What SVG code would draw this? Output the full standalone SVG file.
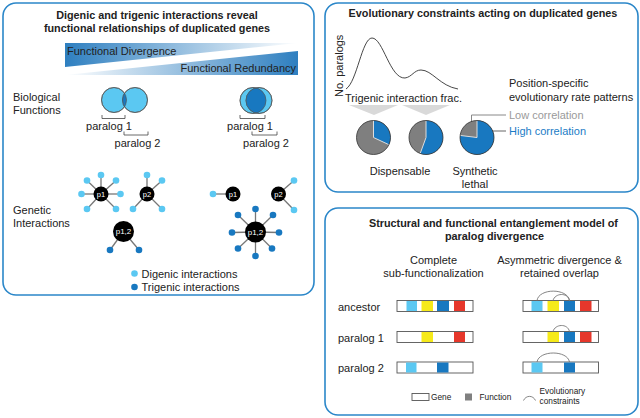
<svg xmlns="http://www.w3.org/2000/svg" width="640" height="418" viewBox="0 0 640 418">
<defs>
<linearGradient id="gDiv" x1="0" y1="0" x2="1" y2="0">
<stop offset="0" stop-color="#2e7fc0"/><stop offset="1" stop-color="#2e7fc0" stop-opacity="0"/>
</linearGradient>
<linearGradient id="gRed" x1="0" y1="0" x2="1" y2="0">
<stop offset="0" stop-color="#2e7fc0" stop-opacity="0"/><stop offset="1" stop-color="#2e7fc0"/>
</linearGradient>
<clipPath id="cL"><circle cx="114" cy="100" r="12.5"/></clipPath>
<clipPath id="cR"><circle cx="253" cy="100.5" r="13"/></clipPath>
</defs>
<style>
text{font-family:"Liberation Sans",Arial,sans-serif;fill:#222;font-size:11px}
.t{font-weight:bold;font-size:10.8px;text-anchor:middle}
.c{text-anchor:middle}
.panel{fill:#fff;stroke:#2b87c9;stroke-width:1.6}
.lb{fill:#5bc8f2}
.db{fill:#1878c0}
.ye{fill:#f6ea1a}
.rd{fill:#e6372b}
.vs{stroke:#555;stroke-width:0.7}
.br{fill:none;stroke:#444;stroke-width:0.8}
.sp{stroke:#777;stroke-width:1.3}
.nd{fill:#000}
.nl{fill:#fff;font-size:7.5px;text-anchor:middle}
.gene{fill:#fff;stroke:#555;stroke-width:0.9}
.arc{fill:none;stroke:#777;stroke-width:0.9}
.pg{fill:#7f7f7f}
.pb{fill:#1878c0}
.pe{fill:none;stroke:#333;stroke-width:0.8}
.pw{stroke:#ddd;stroke-width:1}
.lg{font-size:8.3px}
</style>

<g id="panel-left">
<rect class="panel" x="3" y="3" width="311" height="292" rx="13"/>
<text class="t" x="157" y="19">Digenic and trigenic interactions reveal</text>
<text class="t" x="157" y="31.5">functional relationships of duplicated genes</text>
<polygon points="65,43 298,43 65,67" fill="url(#gDiv)"/>
<polygon points="65,75 298,51 298,75" fill="url(#gRed)"/>
<text x="67" y="55">Functional Divergence</text>
<text x="296" y="72" text-anchor="end">Functional Redundancy</text>
<text x="13" y="101">Biological</text>
<text x="13" y="113.5">Functions</text>
<text x="13" y="214">Genetic</text>
<text x="13" y="227">Interactions</text>
</g>

<g id="venn-left">
<circle class="lb vs" cx="114" cy="100" r="12.5"/>
<circle class="lb vs" cx="135" cy="100" r="12.5"/>
<circle class="db" cx="135" cy="100" r="12.5" clip-path="url(#cL)"/>
<circle cx="114" cy="100" r="12.5" fill="none" class="vs"/>
<circle cx="135" cy="100" r="12.5" fill="none" class="vs"/>
<path class="br" d="M102,115 V118.5 H125 V115"/>
<text class="c" x="109" y="130">paralog 1</text>
<path class="br" d="M124,131.5 V135 H148 V131.5"/>
<text class="c" x="137.5" y="146.5">paralog 2</text>
</g>

<g id="venn-right">
<circle class="lb vs" cx="253" cy="100.5" r="13"/>
<circle class="lb vs" cx="259" cy="100.5" r="13"/>
<circle class="db" cx="259" cy="100.5" r="13" clip-path="url(#cR)"/>
<circle cx="253" cy="100.5" r="13" fill="none" class="vs"/>
<circle cx="259" cy="100.5" r="13" fill="none" class="vs"/>
<path class="br" d="M240,115 V118.5 H265 V115"/>
<text class="c" x="250" y="130">paralog 1</text>
<path class="br" d="M252,131.5 V135 H277 V131.5"/>
<text class="c" x="266" y="146.5">paralog 2</text>
</g>

<g id="connectors">
<g class="sp">
<line x1="101" y1="194" x2="101" y2="175"/><line x1="101" y1="194" x2="87" y2="180.5"/><line x1="101" y1="194" x2="116" y2="180.5"/>
<line x1="101" y1="194" x2="81.5" y2="194"/><line x1="101" y1="194" x2="120.5" y2="194"/><line x1="101" y1="194" x2="87" y2="209"/><line x1="101" y1="194" x2="116" y2="209"/>
<line x1="147" y1="194" x2="147" y2="175"/><line x1="147" y1="194" x2="162" y2="180.5"/><line x1="147" y1="194" x2="133" y2="209"/><line x1="147" y1="194" x2="162" y2="209"/>
<line x1="123.5" y1="231.5" x2="110" y2="250"/><line x1="123.5" y1="231.5" x2="139" y2="250"/>
<line x1="233" y1="194" x2="213" y2="194"/>
<line x1="278.5" y1="194" x2="294" y2="180.5"/><line x1="278.5" y1="194" x2="294" y2="210"/>
<line x1="255.5" y1="232" x2="255.5" y2="209"/><line x1="255.5" y1="232" x2="238" y2="215"/><line x1="255.5" y1="232" x2="273" y2="215"/>
<line x1="255.5" y1="232" x2="232" y2="232.5"/><line x1="255.5" y1="232" x2="279" y2="232.5"/><line x1="255.5" y1="232" x2="238" y2="248.5"/>
<line x1="255.5" y1="232" x2="272" y2="248.5"/><line x1="255.5" y1="232" x2="255.5" y2="256"/>
</g>
</g>

<g id="dots">
<g class="lb">
<circle cx="101" cy="175" r="3.3"/><circle cx="87" cy="180.5" r="3.3"/><circle cx="116" cy="180.5" r="3.3"/><circle cx="81.5" cy="194" r="3.3"/>
<circle cx="120.5" cy="194" r="3.3"/><circle cx="87" cy="209" r="3.3"/><circle cx="116" cy="209" r="3.3"/>
<circle cx="147" cy="175" r="3.3"/><circle cx="162" cy="180.5" r="3.3"/><circle cx="133" cy="209" r="3.3"/><circle cx="162" cy="209" r="3.3"/>
<circle cx="213" cy="194" r="3.3"/><circle cx="294" cy="180.5" r="3.3"/><circle cx="294" cy="210" r="3.3"/>
</g>
<g class="db">
<circle cx="110" cy="250" r="3.3"/><circle cx="139" cy="250" r="3.3"/>
<circle cx="255.5" cy="209" r="3.3"/><circle cx="238" cy="215" r="3.3"/><circle cx="273" cy="215" r="3.3"/><circle cx="232" cy="232.5" r="3.3"/>
<circle cx="279" cy="232.5" r="3.3"/><circle cx="238" cy="248.5" r="3.3"/><circle cx="272" cy="248.5" r="3.3"/><circle cx="255.5" cy="256" r="3.3"/>
</g>
</g>

<g id="node-p1-left"><circle class="nd" cx="101" cy="194" r="7.5"/><text class="nl" x="101" y="196.7">p1</text></g>
<g id="node-p2-left"><circle class="nd" cx="147" cy="194" r="7.5"/><text class="nl" x="147" y="196.7">p2</text></g>
<g id="node-p12-left"><circle class="nd" cx="123.5" cy="231.5" r="10.5"/><text class="nl" x="123.5" y="234.3" style="font-size:8px">p1,2</text></g>
<g id="node-p1-right"><circle class="nd" cx="233" cy="194" r="7.5"/><text class="nl" x="233" y="196.7">p1</text></g>
<g id="node-p2-right"><circle class="nd" cx="278.5" cy="194" r="7.5"/><text class="nl" x="278.5" y="196.7">p2</text></g>
<g id="node-p12-right"><circle class="nd" cx="255.5" cy="232" r="10.5"/><text class="nl" x="255.5" y="234.8" style="font-size:8px">p1,2</text></g>

<g id="legend-left">
<circle class="lb" cx="134.5" cy="273.5" r="3.3"/><text x="141.5" y="277.5">Digenic interactions</text>
<circle class="db" cx="134.5" cy="287" r="3.3"/><text x="141.5" y="291">Trigenic interactions</text>
</g>

<g id="panel-evo">
<rect class="panel" x="325" y="3" width="313" height="189" rx="13"/>
<text class="t" x="483" y="17">Evolutionary constraints acting on duplicated genes</text>
<path d="M346,89 C357,82 362,38 372,38 C383,38 390,79 405,78 C412,77 414,70 421,70 C432,70 440,86 458,89" fill="none" stroke="#333" stroke-width="0.9"/>
<text x="343" y="97" transform="rotate(-90 343 97)">No. paralogs</text>
<text x="345" y="102">Trigenic interaction frac.</text>
<polygon points="349,105 398,105 374,115" fill="#d9d9d9"/>
<polygon points="402,105 450,105 426,115" fill="#d9d9d9"/>
<text x="509" y="87">Position-specific</text>
<text x="509" y="101">evolutionary rate patterns</text>
<text x="509" y="119" style="fill:#9a9a9a">Low correlation</text>
<text x="509" y="135" style="fill:#1b7cc6">High correlation</text>
<text class="c" x="400" y="175">Dispensable</text>
<text class="c" x="475" y="175">Synthetic</text>
<text class="c" x="475" y="188">lethal</text>
<polyline points="471.5,128 471.5,115 506,115" fill="none" stroke="#888" stroke-width="1"/>
<line x1="490" y1="131" x2="506" y2="131" stroke="#666" stroke-width="1"/>
</g>

<g id="pie-1">
<circle class="pg" cx="373.5" cy="137.5" r="17"/>
<path class="pb" d="M373.5,137.5 L373.5,120.5 A17,17 0 0 1 388.91,144.68 Z"/>
<path class="pw" d="M373.5,120.5 L373.5,137.5 L388.91,144.68" fill="none"/>
<circle class="pe" cx="373.5" cy="137.5" r="17"/>
</g>
<g id="pie-2">
<circle class="pg" cx="426" cy="137.5" r="17"/>
<path class="pb" d="M426,137.5 L426,120.5 A17,17 0 1 1 420.19,153.47 Z"/>
<path class="pw" d="M426,120.5 L426,137.5 L420.19,153.47" fill="none"/>
<circle class="pe" cx="426" cy="137.5" r="17"/>
</g>
<g id="pie-3">
<circle class="pg" cx="477" cy="137.5" r="17"/>
<path class="pb" d="M477,137.5 L477,120.5 A17,17 0 1 1 460.13,135.43 Z"/>
<path class="pw" d="M477,120.5 L477,137.5 L460.13,135.43" fill="none"/>
<circle class="pe" cx="477" cy="137.5" r="17"/>
</g>

<g id="panel-model">
<rect class="panel" x="325" y="208" width="313" height="207" rx="13"/>
<text class="t" x="493.5" y="227">Structural and functional entanglement model of</text>
<text class="t" x="494.5" y="240">paralog divergence</text>
<text class="c" x="433.5" y="264">Complete</text>
<text class="c" x="433.5" y="276.5">sub-functionalization</text>
<text class="c" x="559.5" y="264">Asymmetric divergence &amp;</text>
<text class="c" x="559.5" y="276.5">retained overlap</text>
<text x="338" y="310.5">ancestor</text>
<text x="338" y="341.5">paralog 1</text>
<text x="338" y="372">paralog 2</text>
</g>

<g id="gene-ancestor-left">
<rect class="gene" x="397" y="300.5" width="76" height="11"/>
<rect class="lb" x="406.5" y="301" width="10.5" height="10"/><rect class="ye" x="421.5" y="301" width="11.5" height="10"/>
<rect class="db" x="437" y="301" width="12" height="10"/><rect class="rd" x="454" y="301" width="11" height="10"/>
</g>
<g id="gene-p1-left">
<rect class="gene" x="397" y="331.5" width="76" height="11"/>
<rect class="ye" x="421.5" y="332" width="11.5" height="10"/><rect class="rd" x="454" y="332" width="11" height="10"/>
</g>
<g id="gene-p2-left">
<rect class="gene" x="397" y="362" width="76" height="11"/>
<rect class="lb" x="406" y="362.5" width="10.5" height="10"/><rect class="db" x="437" y="362.5" width="11.5" height="10"/>
</g>
<g id="gene-ancestor-right">
<rect class="gene" x="523" y="300.5" width="75.5" height="11"/>
<rect class="lb" x="531.5" y="301" width="11" height="10"/><rect class="ye" x="547.5" y="301" width="11.5" height="10"/>
<rect class="db" x="564" y="301" width="11" height="10"/><rect class="rd" x="580" y="301" width="11.5" height="10"/>
<path class="arc" d="M537,300.5 C539,288 567.5,288 569.5,300.5"/>
<path class="arc" d="M553,300.5 C555,293 567.5,292 569.5,300.5"/>
</g>
<g id="gene-p1-right">
<rect class="gene" x="523" y="331.5" width="75.5" height="11"/>
<rect class="ye" x="547.5" y="332" width="11.5" height="10"/><rect class="db" x="564" y="332" width="11" height="10"/>
<rect class="rd" x="580" y="332" width="11.5" height="10"/>
<path class="arc" d="M553,331.5 C555,324 567.5,323 569.5,331.5"/>
</g>
<g id="gene-p2-right">
<rect class="gene" x="523" y="362" width="75.5" height="11"/>
<rect class="lb" x="531.5" y="362.5" width="11" height="10"/><rect class="db" x="564" y="362.5" width="11" height="10"/>
<path class="arc" d="M537,362 C539,350 567.5,350 569.5,362"/>
</g>

<g id="legend-model">
<rect class="gene" x="412" y="393.5" width="17" height="7"/>
<text class="lg" x="431" y="399.5">Gene</text>
<rect x="465" y="393.5" width="7" height="7" fill="#808080"/>
<text class="lg" x="479.5" y="399.5">Function</text>
<path class="arc" d="M523.5,400.5 C526,395 533,395 535.5,400.5"/>
<text class="lg" x="539.5" y="393.5">Evolutionary</text>
<text class="lg" x="539.5" y="403.5">constraints</text>
</g>
</svg>
